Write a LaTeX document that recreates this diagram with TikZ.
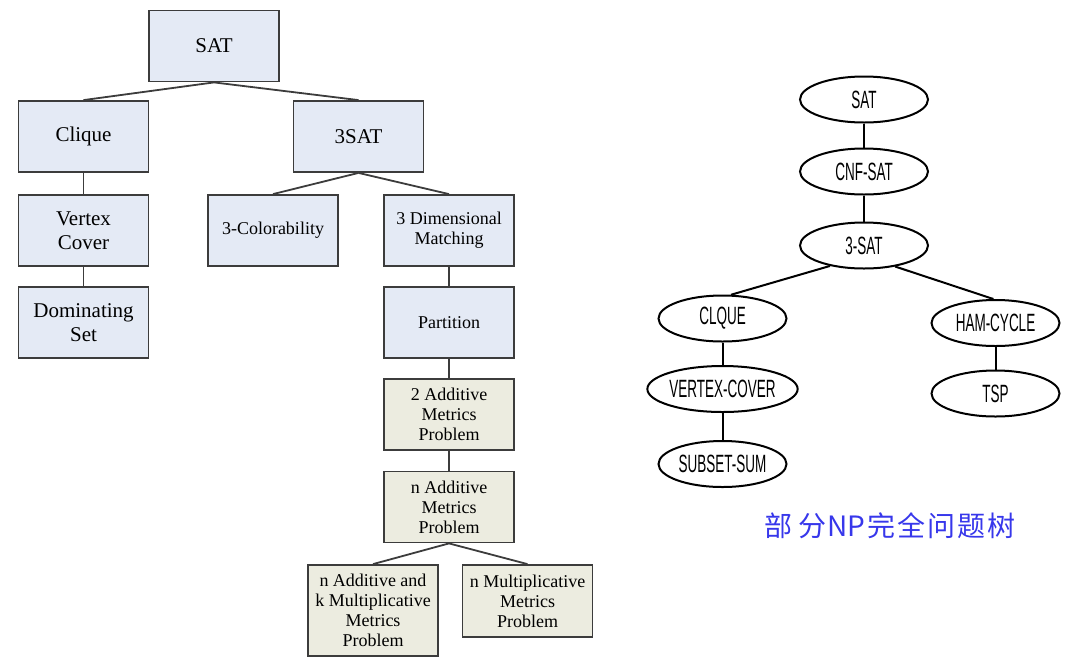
\documentclass[tikz,border=0pt]{standalone}
\usepackage{fontspec}
\setmainfont{Liberation Serif}
\newfontfamily\ellfont[FakeStretch=0.54]{Liberation Sans}
\newfontfamily\capfont{Noto Sans CJK SC}
\usepackage{tikz}
\usetikzlibrary{shapes,calc,positioning}
\definecolor{boxblue}{RGB}{228,234,245}
\definecolor{boxtan}{RGB}{236,236,224}
\definecolor{boxline}{RGB}{60,60,60}
\definecolor{capblue}{RGB}{55,55,235}

\begin{document}
\begin{tikzpicture}[x=1pt,y=-1pt,
    rekt/.style={rectangle,draw=boxline,line width=1.8pt,fill=boxblue,
      minimum width=130pt,minimum height=71pt,inner sep=2pt,align=center},
    big/.style={font=\fontsize{21}{24}\selectfont},
    small/.style={font=\fontsize{18}{20}\selectfont},
    tan/.style={fill=boxtan},
    elli/.style={ellipse,draw,line width=2pt,minimum width=128pt,minimum height=46pt,
      inner sep=0pt,font=\ellfont\fontsize{25}{26}\selectfont},
    link/.style={draw=boxline,line width=1.8pt},
    blink/.style={draw,line width=2pt}
  ]
    \useasboundingbox (0,0) rectangle (1068,662);

    % left tree
    \node (L0) at (214,46) [rekt,big] {SAT};
    \node (L1) at (83.5,136.5) [rekt,big] {Clique};
    \node (L11) at ($(L1) + (0,94)$) [rekt,big] {Vertex\\Cover};
    \node (L111) at ($(L11) + (0,92)$) [rekt,big] {Dominating\\Set};
    \node (L2) at (358.5,136.5) [rekt,big] {3SAT};
    \node (L21) at (273,230.5) [rekt,small] {3-Colorability};
    \node (L22) at (449,230.5) [rekt,small] {3 Dimensional\\Matching};
    \node (L221) at ($(L22) + (0,92)$) [rekt,small] {Partition};
    \node (L2211) at ($(L221) + (0,92)$) [rekt,small,tan] {2 Additive\\Metrics\\Problem};
    \node (L22111) at ($(L2211) + (0,92.5)$) [rekt,small,tan] {n Additive\\Metrics\\Problem};
    \node (L221111) at (373,610.5) [rekt,small,tan,minimum height=91pt] {n Additive and\\k Multiplicative\\Metrics\\Problem};
    \node (L221112) at (527.5,601) [rekt,small,tan,minimum height=72pt] {n Multiplicative\\Metrics\\Problem};

    \draw[link] (L0.south) -- (L1.north);
    \draw[link] (L0.south) -- (L2.north);
    \draw[link] (L1.south) -- (L11.north);
    \draw[link] (L11.south) -- (L111.north);
    \draw[link] (L2.south) -- (L21.north);
    \draw[link] (L2.south) -- (L22.north);
    \draw[link] (L22.south) -- (L221.north);
    \draw[link] (L221.south) -- (L2211.north);
    \draw[link] (L2211.south) -- (L22111.north);
    \draw[link] (L22111.south) -- (L221111.north);
    \draw[link] (L22111.south) -- (L221112.north);

    % right tree
    \node (R0) at (864,99.5) [elli] {SAT};
    \node (R1) at ($(R0) + (0,72)$) [elli] {CNF-SAT};
    \node (R2) at ($(R1) + (0,74)$) [elli] {3-SAT};
    \node (R21) at (722.5,318.5) [elli] {CLQUE};
    \node (R211) at ($(R21) + (0,70.5)$) [elli] {VERTEX-COVER};
    \node (R2111) at ($(R211) + (0,75)$) [elli] {SUBSET-SUM};
    \node (R22) at (995.5,323) [elli] {HAM-CYCLE};
    \node (R221) at ($(R22) + (0,70.5)$) [elli] {TSP};

    \draw[blink] (R0) -- (R1);
    \draw[blink] (R1) -- (R2);
    \draw[blink] (R2.211) -- (R21.70);
    \draw[blink] (R2.326) -- (R22.95);
    \draw[blink] (R21) -- (R211);
    \draw[blink] (R211) -- (R2111);
    \draw[blink] (R22) -- (R221);

    \node (CAP) at (890,526) [text=capblue,font=\capfont\fontsize{28}{30}\selectfont]
      {部\hspace{6pt}分\hspace{1pt}NP\hspace{2pt}完\hspace{2pt}全\hspace{2pt}问\hspace{2pt}题\hspace{2pt}树};
  \end{tikzpicture}
\end{document}
